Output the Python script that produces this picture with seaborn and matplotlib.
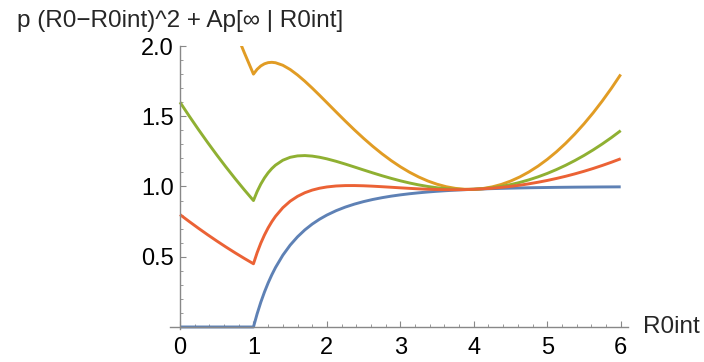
import matplotlib
matplotlib.use("Agg")
import matplotlib.pyplot as plt
import seaborn as sns
import pandas as pd
from matplotlib.ticker import MultipleLocator, FixedLocator

sns.set_style("white")
plt.rcParams['font.family'] = ['Liberation Sans', 'DejaVu Sans']

# R0int grid
r0int = [0, 0.125, 0.25, 0.375, 0.5, 0.625, 0.75, 0.875, 1.0, 1.05, 1.1, 1.15, 1.2,
         1.25, 1.3, 1.4, 1.5, 1.6, 1.7, 1.8, 1.9, 2.0, 2.125, 2.25, 2.375, 2.5,
         2.625, 2.75, 2.875, 3.0, 3.125, 3.25, 3.375, 3.5, 3.625, 3.75, 3.875,
         4.0, 4.125, 4.25, 4.375, 4.5, 4.625, 4.75, 4.875, 5.0, 5.125, 5.25,
         5.375, 5.5, 5.625, 5.75, 5.875, 6.0]

# p = 0 (blue)
blue = [0, 0, 0, 0, 0, 0, 0, 0, 0, 0.0937, 0.1762, 0.2489, 0.3137, 0.3714, 0.4230,
        0.5110, 0.5828, 0.6418, 0.6912, 0.7324, 0.7672, 0.7968, 0.8278, 0.8534,
        0.8747, 0.8926, 0.9077, 0.9204, 0.9313, 0.9405, 0.9484, 0.9551, 0.9610,
        0.9660, 0.9703, 0.9741, 0.9773, 0.9802, 0.9826, 0.9848, 0.9867, 0.9883,
        0.9897, 0.9910, 0.9921, 0.9930, 0.9939, 0.9946, 0.9953, 0.9958, 0.9963,
        0.9968, 0.9971, 0.9975]
# p = 0.2 (orange)
orange = [3.2, 3.0031, 2.8125, 2.6281, 2.45, 2.2781, 2.1125, 1.9531, 1.8, 1.8342,
          1.8582, 1.8734, 1.8817, 1.8839, 1.881, 1.863, 1.8328, 1.7938, 1.7492,
          1.7004, 1.6492, 1.5968, 1.5309, 1.4659, 1.4028, 1.3426, 1.2858, 1.2329,
          1.1844, 1.1405, 1.1015, 1.0676, 1.0391, 1.016, 0.9984, 0.9866, 0.9804,
          0.9802, 0.9857, 0.9973, 1.0148, 1.0383, 1.0678, 1.1035, 1.1452, 1.193,
          1.2470, 1.3071, 1.3734, 1.4458, 1.5244, 1.6093, 1.7002, 1.7975]
# p = 0.1 (green)
green = [1.6, 1.5016, 1.4063, 1.3141, 1.225, 1.1391, 1.0563, 0.9766, 0.9, 0.964,
         1.0172, 1.0612, 1.0977, 1.1277, 1.152, 1.187, 1.2078, 1.2178, 1.2202,
         1.2164, 1.2082, 1.1968, 1.1794, 1.1597, 1.1388, 1.1176, 1.0968, 1.0767,
         1.0579, 1.0405, 1.0250, 1.0114, 1.0001, 0.991, 0.9844, 0.9804, 0.9789,
         0.9802, 0.9842, 0.9911, 1.0008, 1.0133, 1.0288, 1.0473, 1.0687, 1.093,
         1.1205, 1.1509, 1.1844, 1.2208, 1.2604, 1.3031, 1.3487, 1.3975]
# p = 0.05 (red)
red = [0.8, 0.7508, 0.7031, 0.6570, 0.6125, 0.5695, 0.5281, 0.4883, 0.45, 0.5288,
       0.5967, 0.6550, 0.7057, 0.7495, 0.7875, 0.849, 0.8953, 0.9298, 0.9557,
       0.9744, 0.9877, 0.9968, 1.0036, 1.0065, 1.0067, 1.0051, 1.0022, 0.9985,
       0.9946, 0.9905, 0.9867, 0.9832, 0.9805, 0.9785, 0.9773, 0.9772, 0.9781,
       0.9802, 0.9834, 0.9879, 0.9937, 1.0008, 1.0092, 1.0191, 1.0304, 1.043,
       1.0572, 1.0727, 1.0898, 1.1083, 1.1283, 1.1499, 1.1729, 1.1975]

series = {"p0": blue, "p0.2": orange, "p0.1": green, "p0.05": red}
colors = {"p0": "#5E81B5", "p0.2": "#E19C24", "p0.1": "#8FB032", "p0.05": "#EB6235"}

rows = []
for name, vals in series.items():
    assert len(vals) == len(r0int), name
    for x, y in zip(r0int, vals):
        rows.append({"R0int": x, "value": y, "series": name})
df = pd.DataFrame(rows)

fig = plt.figure(figsize=(7.04, 3.62), dpi=100)
ax = fig.add_axes([0.2415, 0.0909, 0.6506, 0.782])

sns.lineplot(data=df, x="R0int", y="value", hue="series", palette=colors,
             hue_order=list(series.keys()), estimator=None, sort=False,
             linewidth=2.1, legend=False, ax=ax)
for ln in ax.get_lines():
    ln.set_solid_joinstyle("round")
    ln.set_solid_capstyle("butt")

ax.set_xlim(-0.136, 6.1)
ax.set_ylim(-0.015, 2.0)

axis_col = "#888888"
for s in ["top", "right"]:
    ax.spines[s].set_visible(False)
ax.spines["left"].set_position(("data", 0))
ax.spines["bottom"].set_position(("data", 0))
for s in ["left", "bottom"]:
    ax.spines[s].set_color(axis_col)
    ax.spines[s].set_linewidth(1.0)

ax.xaxis.set_major_locator(FixedLocator([0, 1, 2, 3, 4, 5, 6]))
ax.xaxis.set_minor_locator(MultipleLocator(0.2))
ax.yaxis.set_major_locator(FixedLocator([0.5, 1.0, 1.5, 2.0]))
ax.yaxis.set_minor_locator(MultipleLocator(0.1))
ax.set_xticklabels(["0", "1", "2", "3", "4", "5", "6"])
ax.set_yticklabels(["0.5", "1.0", "1.5", "2.0"])

ax.tick_params(axis="both", which="major", direction="in", length=4.5,
               width=0.8, color=axis_col, labelsize=17, labelcolor="black")
ax.tick_params(axis="both", which="minor", direction="in", length=2.5,
               width=0.6, color=axis_col)
ax.tick_params(axis="x", which="major", pad=7.5)
ax.tick_params(axis="y", which="major", pad=4.5)
ax.tick_params(left=True, bottom=True, which="both")

ax.set_xlabel("")
ax.set_ylabel("")

ax.annotate("p (R0\u2212R0int)^2 + Ap[\u221e | R0int]", xy=(0, 2.0),
            xycoords="data", xytext=(0, 13.5), textcoords="offset points",
            ha="center", va="baseline", fontsize=17.5, annotation_clip=False)
ax.annotate("R0int", xy=(1.0, 0), xycoords=("axes fraction", "data"),
            xytext=(10.5, 0), textcoords="offset points",
            ha="left", va="center", fontsize=17.5, annotation_clip=False)

fig.savefig("out.png", dpi=100)
